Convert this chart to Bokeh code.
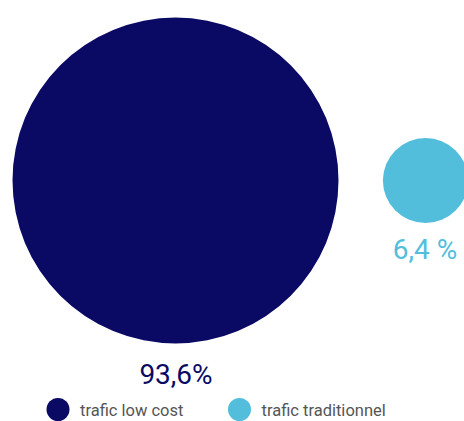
import math
from bokeh.plotting import figure
from bokeh.models import Range1d, ColumnDataSource
from bokeh.core.properties import value
from bokeh.embed import file_html
from bokeh.resources import INLINE

categories = ["trafic low cost", "trafic traditionnel"]
shares = [93.6, 6.4]
value_labels = ["93,6%", "6,4 %"]
colors = ["#0a0a64", "#52bedc"]

W, H = 464, 421
p = figure(width=W, height=H, output_backend="svg", toolbar_location=None,
           x_range=Range1d(0, W), y_range=Range1d(0, H),
           min_border=0, outline_line_color=None, background_fill_color="white")
p.xaxis.visible = False
p.yaxis.visible = False
p.grid.visible = False

R_big = 163.0
radii = [R_big * math.sqrt(s / shares[0]) for s in shares]
cx = [175, 425]
cy = [241, 241]
src = ColumnDataSource(dict(x=cx, y=cy, r=radii, color=colors))
p.circle(x="x", y="y", radius="r", fill_color="color", line_color=None, source=src)

# value labels below circles
label_x = [175.5, 424.5]
label_y = [47, 172]
p.text(x=label_x, y=label_y, text=value_labels,
       text_align="center", text_baseline="alphabetic",
       text_font=value("Roboto"), text_font_size="28px",
       text_color=colors)

# legend
leg_x = [57.5, 239]
leg_y = [12, 12]
p.circle(x=leg_x, y=leg_y, radius=11.5, fill_color=colors, line_color=None)
p.text(x=[x + 22 for x in leg_x], y=[11, 11], text=categories,
       text_align="left", text_baseline="alphabetic",
       text_font=value("Roboto"), text_font_size="16.5px", text_color="#555555")

open("out.html", "w").write(file_html(p, INLINE))
